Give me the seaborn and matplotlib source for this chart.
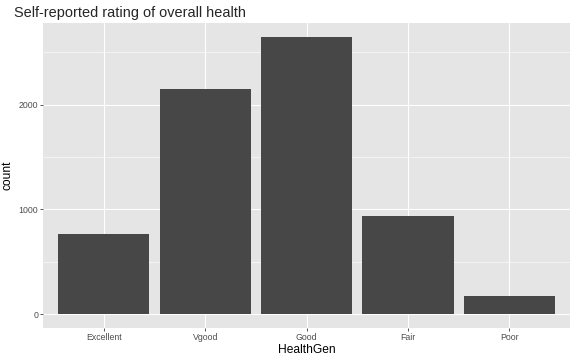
import matplotlib

matplotlib.use("Agg")
import matplotlib.pyplot as plt
import seaborn as sns
from matplotlib.ticker import MultipleLocator

categories = ["Excellent", "Vgood", "Good", "Fair", "Poor"]
counts = [766, 2151, 2648, 938, 173]
y_ticks = [0, 1000, 2000]

sns.set_theme(style="darkgrid", rc={
    "axes.facecolor": "#E5E5E5",
    "grid.color": "white",
    "axes.edgecolor": "#E5E5E5",
})
plt.rcParams["font.family"] = ["Liberation Sans", "DejaVu Sans"]

fig = plt.figure(figsize=(8, 5), dpi=72)
ax = fig.add_axes([0.0747, 0.0889, 0.915, 0.847])

sns.barplot(x=categories, y=counts, color="#474747", width=0.9,
            saturation=1, linewidth=0, ax=ax, zorder=3)

top = max(counts)
ax.set_ylim(-0.05 * top, 1.05 * top)
ax.set_xlim(-0.6, len(categories) - 0.4)
ax.set_yticks(y_ticks)
ax.yaxis.set_minor_locator(MultipleLocator(500))
ax.grid(which="major", color="white", lw=1.1)
ax.grid(which="minor", axis="y", color="white", lw=0.55)
ax.set_axisbelow(True)
for s in ax.spines.values():
    s.set_visible(False)

ax.tick_params(axis="both", which="major", length=3, width=0.8,
               color="#333333", labelsize=8.8, labelcolor="#4D4D4D", pad=2,
               bottom=True, left=True)
ax.tick_params(axis="y", which="minor", length=0)

ax.set_xlabel("HealthGen", fontsize=12, color="black", labelpad=2)
ax.set_ylabel("count", fontsize=12, color="black", labelpad=5)
fig.text(14 / 576, 1 - 17 / 360, "Self-reported rating of overall health",
         fontsize=14.5, ha="left", va="baseline")

fig.savefig("out.png", dpi=72)
